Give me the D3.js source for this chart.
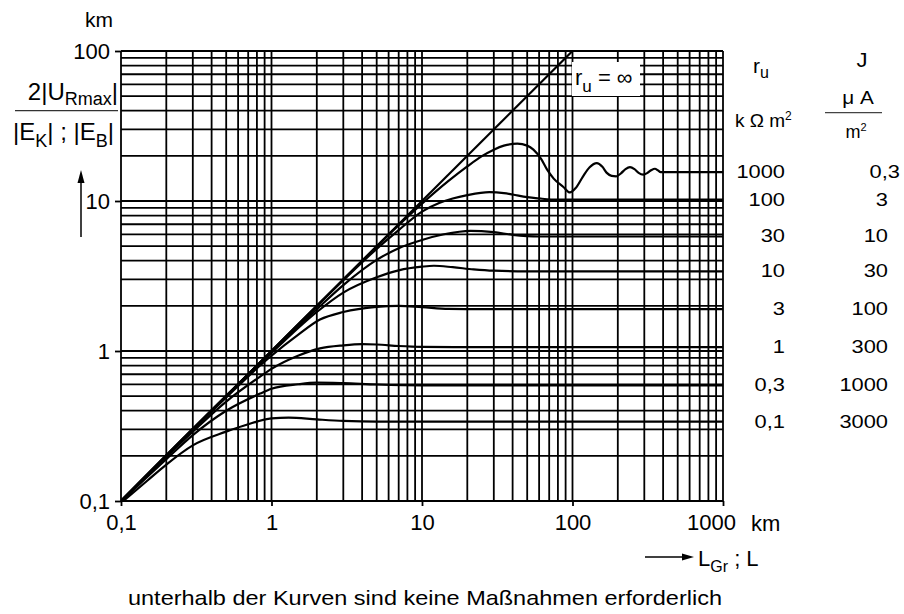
<!DOCTYPE html>
<html>
<head>
<meta charset="utf-8">
<script src="https://cdn.jsdelivr.net/npm/d3@7"></script>
<style>
body { margin: 0; background: #fff; }
svg { display: block; font-family: "Liberation Sans", Arial, sans-serif; }
</style>
</head>
<body>
<svg id="chart" width="904" height="614"></svg>
<script>
// axis ranges and labelled ticks
const xDomain = [0.1, 1000];
const yDomain = [0.1, 100];
const xTickValues = [0.1, 1, 10, 100, 1000];
const yTickValues = [0.1, 1, 10, 100];

// legend columns: r_u in kOhm m2 and J in uA/m2, one row per curve
const ruLabels = ['1000', '100', '30', '10', '3', '1', '0,3', '0,1'];
const jLabels = ['0,3', '3', '10', '30', '100', '300', '1000', '3000'];

// curves: [L in km, 2|U|/|E| in km]
const curveInf = [[0.1, 0.1], [100, 100]];
const curve1000 = [[0.1, 0.1], [1, 1], [3, 3], [5, 4.97], [7, 6.9], [10, 9.6], [15, 13.6], [20, 17], [25, 19.9],
  [30, 22], [35, 23.4], [43, 24.1], [50, 23.4], [55, 22], [62, 19], [67.5, 16.3], [75, 14.1], [87, 12.4],
  [96, 11.4], [105, 12.2], [117, 14.5], [130, 16.8], [145, 17.9], [158, 16.9], [169, 15.4], [182, 14.7],
  [195, 14.6], [210, 15.3], [225, 16.3], [241, 16.8], [258, 16.3], [275, 15.4], [295, 15.0], [315, 15.4],
  [335, 16.1], [353, 16.4], [370, 16.0], [385, 15.6], [1000, 15.6]];
const curve100 = [[0.1, 0.1], [1, 1], [2, 1.99], [3, 2.96], [5, 4.8], [7, 6.4], [10, 8.5], [13, 9.7],
  [16, 10.4], [20, 10.95], [28, 11.45], [35, 11.3], [40, 11.05], [50, 10.6], [60, 10.4], [80, 10.2], [1000, 10.2]];
const curve30 = [[0.1, 0.1], [1, 0.99], [2, 1.9], [3, 2.75], [5, 4.05], [7, 4.85], [10, 5.5], [14, 6.0],
  [21, 6.33], [30, 6.2], [40, 5.95], [60, 5.8], [1000, 5.8]];
const curve10 = [[0.1, 0.1], [0.5, 0.5], [1, 0.97], [2, 1.82], [3, 2.45], [5, 3.1], [7, 3.45], [10, 3.65],
  [12, 3.7], [16, 3.62], [22, 3.5], [30, 3.43], [50, 3.4], [1000, 3.4]];
const curve3 = [[0.1, 0.1], [0.3, 0.3], [0.5, 0.49], [0.84, 0.8], [1, 0.93], [1.5, 1.28], [2.1, 1.62],
  [3, 1.82], [5, 1.97], [7, 2.0], [10, 1.96], [15, 1.91], [25, 1.9], [1000, 1.9]];
const curve1 = [[0.1, 0.1], [0.3, 0.29], [0.5, 0.46], [0.84, 0.675], [1, 0.76], [1.5, 0.93], [2.1, 1.04],
  [3, 1.09], [4, 1.11], [5, 1.105], [7, 1.08], [10, 1.065], [20, 1.06], [1000, 1.06]];
const curve03 = [[0.1, 0.099], [0.2, 0.19], [0.3, 0.275], [0.5, 0.4], [0.84, 0.52], [1, 0.56], [1.5, 0.6],
  [2, 0.615], [3, 0.61], [5, 0.598], [10, 0.59], [1000, 0.59]];
const curve01 = [[0.1, 0.097], [0.15, 0.137], [0.2, 0.175], [0.3, 0.235], [0.5, 0.29], [0.7, 0.325],
  [1, 0.355], [1.3, 0.36], [2, 0.35], [3, 0.342], [5, 0.338], [1000, 0.338]];

const curves = [curve1000, curve100, curve30, curve10, curve3, curve1, curve03, curve01];

const svg = d3.select('#chart');
const margin = { left: 121, right: 181, top: 51, bottom: 113 };
const W = 904 - margin.left - margin.right;
const H = 614 - margin.top - margin.bottom;

const x = d3.scaleLog().domain(xDomain).range([margin.left, margin.left + W]);
const y = d3.scaleLog().domain(yDomain).range([margin.top + H, margin.top]);

const fmt = v => String(v).replace('.', ',');

// grid: every 1..9 multiple in each decade
const grid = svg.append('g').attr('stroke', '#000').attr('stroke-width', 1.8);
grid.selectAll('.vx').data(x.ticks()).enter().append('line')
  .attr('x1', d => x(d)).attr('x2', d => x(d))
  .attr('y1', margin.top).attr('y2', margin.top + H);
grid.selectAll('.hy').data(y.ticks()).enter().append('line')
  .attr('y1', d => y(d)).attr('y2', d => y(d))
  .attr('x1', margin.left).attr('x2', margin.left + W);

// axes with decade labels
const xAxis = svg.append('g')
  .attr('transform', `translate(0,${margin.top + H})`)
  .call(d3.axisBottom(x).tickValues(xTickValues).tickSize(5).tickPadding(8).tickFormat(fmt));
const yAxis = svg.append('g')
  .attr('transform', `translate(${margin.left},0)`)
  .call(d3.axisLeft(y).tickValues(yTickValues).tickSize(6).tickPadding(5).tickFormat(fmt));
[xAxis, yAxis].forEach(a => {
  a.select('.domain').remove();
  a.selectAll('.tick line').attr('stroke', '#000').attr('stroke-width', 1.8);
  a.selectAll('.tick text').attr('font-size', 22).attr('fill', '#000')
    .attr('font-family', '"Liberation Sans", Arial, sans-serif');
});
xAxis.selectAll('.tick text').filter(d => d === 1000).attr('dx', -12);

// curves, clipped to the plot
svg.append('clipPath').attr('id', 'plot-clip').append('rect')
  .attr('x', margin.left).attr('y', margin.top).attr('width', W).attr('height', H);

const line = d3.line().x(d => x(d[0])).y(d => y(d[1])).curve(d3.curveMonotoneX);
const curveGroup = svg.append('g').attr('clip-path', 'url(#plot-clip)')
  .attr('fill', 'none').attr('stroke', '#000').attr('stroke-width', 2.2);
curveGroup.append('path').attr('d', d3.line().x(d => x(d[0])).y(d => y(d[1]))(curveInf));
curveGroup.selectAll('.curve').data(curves).enter().append('path')
  .attr('class', 'curve').attr('d', line);

// r_u = infinity label on white
svg.append('rect').attr('x', 572).attr('y', 62).attr('width', 68).attr('height', 34).attr('fill', '#fff');
const infLabel = svg.append('text').attr('x', 575).attr('y', 85).attr('font-size', 22);
infLabel.append('tspan').text('r');
infLabel.append('tspan').attr('font-size', 17).attr('dy', 7).text('u');
infLabel.append('tspan').attr('dy', -7).text(' = ∞');

// y axis title
svg.append('text').attr('x', 113).attr('y', 27).attr('text-anchor', 'end').attr('font-size', 21).text('km');
const num = svg.append('text').attr('x', 118).attr('y', 100).attr('text-anchor', 'end').attr('font-size', 24);
num.append('tspan').text('2|U');
num.append('tspan').attr('font-size', 18).attr('dy', 5).text('Rmax');
num.append('tspan').attr('dy', -5).text('|');
svg.append('line').attr('x1', 15).attr('x2', 118).attr('y1', 110.7).attr('y2', 110.7)
  .attr('stroke', '#333').attr('stroke-width', 1.2);
const den = svg.append('text').attr('x', 114).attr('y', 140).attr('text-anchor', 'end').attr('font-size', 24);
den.append('tspan').text('|E');
den.append('tspan').attr('font-size', 18).attr('dy', 7).text('K');
den.append('tspan').attr('dy', -7).text('| ; |E');
den.append('tspan').attr('font-size', 18).attr('dy', 7).text('B');
den.append('tspan').attr('dy', -7).text('|');

// upward arrow beside the y title
svg.append('line').attr('x1', 81).attr('x2', 81).attr('y1', 237).attr('y2', 180)
  .attr('stroke', '#000').attr('stroke-width', 1.5);
svg.append('path').attr('d', 'M81,170 L77.5,183 L84.5,183 Z').attr('fill', '#000');

// x axis unit and title
svg.append('text').attr('x', 751).attr('y', 531).attr('font-size', 22).text('km');
svg.append('line').attr('x1', 645).attr('x2', 684).attr('y1', 557).attr('y2', 557)
  .attr('stroke', '#000').attr('stroke-width', 1.5);
svg.append('path').attr('d', 'M694,557 L682,553.5 L682,560.5 Z').attr('fill', '#000');
const xt = svg.append('text').attr('x', 698).attr('y', 566).attr('font-size', 22);
xt.append('tspan').text('L');
xt.append('tspan').attr('font-size', 16).attr('dy', 6).text('Gr');
xt.append('tspan').attr('dy', -6).text(' ; L');

svg.append('text').attr('x', 128).attr('y', 605).attr('font-size', 21)
  .attr('textLength', 594).attr('lengthAdjust', 'spacingAndGlyphs')
  .text('unterhalb der Kurven sind keine Maßnahmen erforderlich');

// legend header
function wideText(px, py, str, size, anchor, sx) {
  return svg.append('text')
    .attr('transform', `translate(${px},${py}) scale(${sx},1)`)
    .attr('text-anchor', anchor).attr('font-size', size).text(str);
}
const ruHead = svg.append('text').attr('x', 753).attr('y', 73).attr('font-size', 21);
ruHead.append('tspan').text('r');
ruHead.append('tspan').attr('font-size', 16).attr('dy', 5).text('u');
wideText(862, 67, 'J', 20, 'middle', 1.1);
wideText(858, 104, 'μ A', 18, 'middle', 1.15);
svg.append('line').attr('x1', 825).attr('x2', 882).attr('y1', 112.7).attr('y2', 112.7)
  .attr('stroke', '#444').attr('stroke-width', 1.3);
const m2 = svg.append('text').attr('x', 856).attr('y', 138).attr('text-anchor', 'middle').attr('font-size', 18);
m2.append('tspan').text('m');
m2.append('tspan').attr('font-size', 11).attr('dy', -7).text('2');
const kom = svg.append('text').attr('x', 735).attr('y', 127).attr('font-size', 19);
kom.append('tspan').text('k Ω m');
kom.append('tspan').attr('font-size', 12).attr('dy', -7).text('2');

// legend rows beside each curve's plateau
curves.forEach((c, i) => {
  const py = y(c[c.length - 1][1]) + 6;
  wideText(785, py, ruLabels[i], 19, 'end', 1.15);
  wideText(i === 0 ? 900 : 888, py, jLabels[i], 19, 'end', 1.15);
});
</script>
</body>
</html>
